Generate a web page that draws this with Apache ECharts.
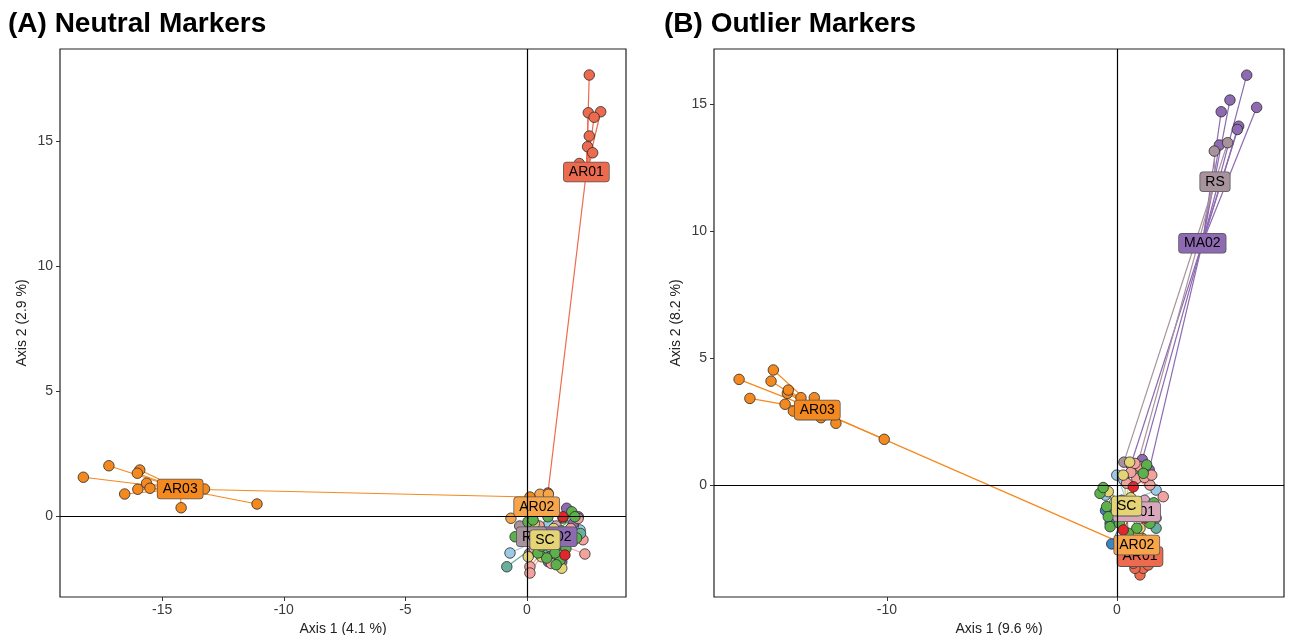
<!DOCTYPE html>
<html>
<head>
<meta charset="utf-8">
<script src="https://cdn.jsdelivr.net/npm/echarts@6/dist/echarts.min.js"></script>
<style>html,body{margin:0;padding:0;background:#fff;}#c{width:1290px;height:635px;}</style>
</head>
<body>
<div id="c"></div>
<script>
// ---------- populations ----------
const popNames  = ['AR01','AR02','AR03','popBlue','popLightBlue','MA01','MA02','RS','popSalmon','popTeal','SC','popGreen','popRed'];
const popColors = ['#EC6B4F','#F6A54B','#F4891F','#3C85C3','#9CC9E4','#D9A7BB','#8D6AB1','#A8929C','#F3A39D','#68AF9D','#E4D476','#5DB14C','#E2262B'];

// ---------- (A) Neutral markers: individual coordinates ----------
const neutralAR01 = [[2.56,17.64],[2.52,16.13],[3.03,16.17],[2.76,15.95],[2.56,15.2],[2.49,14.77],[2.70,14.53],[2.15,14.1],[0.86,0.92]];
const neutralAR02 = [[-0.66,-0.09],[0.53,0.87],[0.88,0.87],[0.2,0.6],[0.7,0.2],[1.0,0.5],[0.3,0.1]];
const neutralAR03 = [[-18.24,1.55],[-17.19,2.01],[-15.92,1.84],[-16.02,1.71],[-15.64,1.31],[-16.0,1.07],[-15.5,1.11],[-16.54,0.88],[-14.22,0.33],[-11.10,0.48],[-13.26,1.08],[0.12,0.76]];
const neutralBlue = [[0.4,-0.7],[1.3,-1.1]];
const neutralLightBlue = [[-0.7,-1.48],[2.18,-0.56],[0.3,-0.8],[0.9,-0.3],[1.9,-0.4]];
const neutralMA01 = [[1.2,-0.4],[0.6,-1.0]];
const neutralMA02 = [[1.63,0.31],[2.11,-0.03],[1.43,-1.83],[0.88,-1.83],[1.2,-0.9],[0.5,-0.6],[1.5,-1.2],[0.8,-1.5],[1.9,-0.3]];
const neutralRS   = [[-0.3,-0.4],[0.6,-1.1],[0.1,-1.5],[0.4,-0.5],[-0.1,-1.0]];
const neutralSalmon = [[2.38,-1.52],[0.12,-2.03],[0.12,-2.28],[2.1,-0.1],[1.8,-0.5],[0.3,-1.3],[1.0,-1.9],[0.5,-0.4],[2.3,-0.95]];
const neutralTeal = [[-0.83,-2.03],[1.4,-0.6],[0.7,-1.3],[1.9,-1.0],[2.2,-0.7]];
const neutralSC   = [[0.05,-1.63],[0.6,-1.63],[1.43,-2.09],[0.3,-0.3],[1.1,-0.5],[1.6,-0.7],[0.9,-1.2],[0.2,-0.9]];
const neutralGreen = [[0.04,-0.23],[0.25,-0.16],[0.86,-0.03],[1.84,0.17],[1.97,-0.03],[1.36,-1.76],[1.15,-1.48],[0.81,-1.68],[0.45,-1.48],[-0.49,-0.83],[2.04,-0.88],[1.48,-0.08],[1.2,-1.95],[0.6,-1.2],[1.6,-1.3]];
const neutralRed  = [[1.48,-0.03],[1.56,-1.56],[1.0,-0.9]];
// centroids (label positions), same order as popNames
const neutralCentroids = [[2.44,13.76],[0.40,0.37],[-14.26,1.08],[0.8,-0.9],[0.6,-0.9],[0.9,-0.8],[1.08,-0.83],[0.19,-0.83],[1.0,-1.0],[0.6,-1.0],[0.74,-0.95],[0.9,-0.8],[1.2,-0.8]];
const neutralLabelled = ['AR01','AR02','AR03','MA02','RS','SC'];

// ---------- (B) Outlier markers: individual coordinates ----------
const outlierAR01 = [[1.0,-3.54],[1.14,-3.28],[0.78,-3.28],[1.36,-3.15],[0.71,-3.08],[1.2,-2.9],[0.9,-2.7],[1.5,-2.6],[0.6,-2.5]];
const outlierAR02 = [[0.5,-2.2],[1.3,-2.4],[0.7,-2.6],[1.1,-2.1],[0.9,-1.9],[0.4,-2.5]];
const outlierAR03 = [[-16.43,4.16],[-14.94,4.53],[-15.04,4.09],[-15.96,3.41],[-14.33,3.61],[-14.29,3.74],[-14.43,3.18],[-13.74,3.44],[-13.16,3.44],[-14.07,2.91],[-12.87,2.65],[-12.22,2.43],[-10.12,1.80],[0.1,-2.25]];
const outlierBlue = [[-0.23,-2.32],[-0.5,-1.0],[1.6,-1.0],[0.2,-0.6],[-0.3,-1.5]];
const outlierLightBlue = [[-0.01,0.39],[-0.5,-0.4],[0.3,0.2],[1.7,-0.2]];
const outlierMA01 = [[1.5,-0.9],[1.0,-1.2],[1.7,-1.3],[1.2,-0.6]];
const outlierMA02 = [[5.64,16.14],[4.91,15.16],[6.07,14.87],[4.53,14.70],[5.29,14.13],[5.23,14.0],[4.45,13.39],[0.6,0.8],[1.1,1.0],[1.4,0.6]];
const outlierRS   = [[4.81,13.48],[4.23,13.15],[0.8,0.5],[0.3,0.9]];
const outlierSalmon = [[0.86,0.26],[1.0,0.72],[0.42,0.07],[1.43,0.0],[2.01,-0.46],[0.6,0.5],[1.2,0.3],[0.78,0.85],[1.51,0.39]];
const outlierTeal = [[1.7,-1.7],[0.1,-0.9]];
const outlierSC   = [[0.27,0.39],[-0.38,-0.26],[1.0,-1.7],[0.2,-1.2],[0.6,-0.5],[-0.1,-0.7],[0.55,0.9]];
const outlierGreen = [[1.29,0.79],[1.14,0.46],[-0.74,-0.33],[-0.45,-0.85],[-0.38,-1.25],[-0.3,-1.64],[0.86,-1.7],[1.43,-1.51],[0.49,-1.9],[-0.6,-0.1],[0.1,-1.5],[1.6,-0.7]];
const outlierRed  = [[0.71,-0.07],[0.27,-1.77],[1.2,-1.3]];
const outlierCentroids = [[1.0,-2.82],[0.86,-2.36],[-13.03,2.95],[0.45,-0.9],[0.45,-0.7],[0.86,-1.05],[3.71,9.52],[4.26,11.94],[0.9,0.2],[0.7,-1.1],[0.42,-0.83],[0.4,-0.8],[0.7,-1.0]];
const outlierLabelled = ['AR01','AR02','AR03','MA01','MA02','RS','SC'];

// ---------- axes ----------
const neutralXTicks = [-15,-10,-5,0];
const neutralYTicks = [0,5,10,15];
const outlierXTicks = [-10,0];
const outlierYTicks = [0,5,10,15];
const titles = ['(A) Neutral Markers','(B) Outlier Markers'];
const xNames = ['Axis 1 (4.1 %)','Axis 1 (9.6 %)'];
const yNames = ['Axis 2 (2.9 %)','Axis 2 (8.2 %)'];

const neutralPoints = [neutralAR01,neutralAR02,neutralAR03,neutralBlue,neutralLightBlue,neutralMA01,neutralMA02,neutralRS,neutralSalmon,neutralTeal,neutralSC,neutralGreen,neutralRed];
const outlierPoints = [outlierAR01,outlierAR02,outlierAR03,outlierBlue,outlierLightBlue,outlierMA01,outlierMA02,outlierRS,outlierSalmon,outlierTeal,outlierSC,outlierGreen,outlierRed];

const FONT = 'Liberation Sans, Arial, sans-serif';

function panelSeries(idx, points, centroids, labelled) {
  const out = [];
  out.push({
    type:'scatter', xAxisIndex:idx, yAxisIndex:idx, data:[], z:1, silent:true,
    markLine:{ silent:true, symbol:'none', label:{show:false}, animation:false,
      lineStyle:{color:'#000', width:1.2, type:'solid'},
      data:[{xAxis:0},{yAxis:0}] }
  });
  popNames.forEach((n,i) => {
    if (!points[i].length) return;
    out.push({
      type:'lines', coordinateSystem:'cartesian2d', xAxisIndex:idx, yAxisIndex:idx,
      z:2, silent:true, animation:false,
      lineStyle:{color:popColors[i], width:1.2, opacity:1},
      data: points[i].map(p => ({coords:[centroids[i], p]}))
    });
  });
  popNames.forEach((n,i) => {
    if (!points[i].length) return;
    out.push({
      type:'scatter', name:n, xAxisIndex:idx, yAxisIndex:idx, z:3, animation:false,
      symbolSize:10.5,
      itemStyle:{color:popColors[i], borderColor:'#2a2a2a', borderWidth:0.8, opacity:1},
      data: points[i]
    });
  });
  popNames.forEach((n,i) => {
    if (labelled.indexOf(n) < 0) return;
    out.push({
      type:'scatter', xAxisIndex:idx, yAxisIndex:idx, z:4, animation:false, silent:true,
      symbol:'rect', symbolSize:2, itemStyle:{color:popColors[i], opacity:1, borderWidth:0},
      label:{show:true, position:'inside', formatter:n, color:'#000', opacity:1, fontSize:14, fontFamily:FONT,
        backgroundColor:popColors[i], borderColor:'#555', borderWidth:0.8, borderRadius:3,
        padding:[3,5,2,5]},
      labelLayout:{hideOverlap:false},
      data:[centroids[i]]
    });
  });
  return out;
}

function xAxis(idx, min, max, ticks, name) {
  return {
    type:'value', gridIndex:idx, min:min, max:max, position:'bottom',
    axisLine:{show:false, onZero:false}, splitLine:{show:false},
    axisTick:{show:true, length:4, customValues:ticks, lineStyle:{color:'#333'}},
    axisLabel:{customValues:ticks, color:'#3a3a3a', fontSize:14, fontFamily:FONT, margin:6},
    name:name, nameLocation:'middle', nameGap:24,
    nameTextStyle:{color:'#222', fontSize:14, fontFamily:FONT}
  };
}
function yAxis(idx, min, max, ticks, name) {
  return {
    type:'value', gridIndex:idx, min:min, max:max, position:'left',
    axisLine:{show:false, onZero:false}, splitLine:{show:false},
    axisTick:{show:true, length:4, customValues:ticks, lineStyle:{color:'#333'}},
    axisLabel:{customValues:ticks, color:'#3a3a3a', fontSize:14, fontFamily:FONT, margin:7},
    name:name, nameLocation:'middle', nameGap:31, nameRotate:90,
    nameTextStyle:{color:'#222', fontSize:14, fontFamily:FONT}
  };
}

const chart = echarts.init(document.getElementById('c'), null, {renderer:'canvas'});
chart.setOption({
  backgroundColor:'#fff',
  animation:false,
  title:[
    {text:titles[0], left:8, top:10, padding:0, textStyle:{fontSize:28, fontWeight:'bold', fontFamily:FONT, color:'#000'}},
    {text:titles[1], left:664, top:10, padding:0, textStyle:{fontSize:28, fontWeight:'bold', fontFamily:FONT, color:'#000'}}
  ],
  grid:[
    {left:60, top:49, width:566, height:548, show:true, borderColor:'#222', borderWidth:1.2, containLabel:false, outerBoundsMode:'none'},
    {left:714, top:49, width:570, height:548, show:true, borderColor:'#222', borderWidth:1.2, containLabel:false, outerBoundsMode:'none'}
  ],
  xAxis:[ xAxis(0,-19.2,4.07,neutralXTicks,xNames[0]), xAxis(1,-17.52,7.26,outlierXTicks,xNames[1]) ],
  yAxis:[ yAxis(0,-3.24,18.68,neutralYTicks,yNames[0]), yAxis(1,-4.41,17.17,outlierYTicks,yNames[1]) ],
  series:[].concat(
    panelSeries(0, neutralPoints, neutralCentroids, neutralLabelled),
    panelSeries(1, outlierPoints, outlierCentroids, outlierLabelled)
  )
});
</script>
</body>
</html>
